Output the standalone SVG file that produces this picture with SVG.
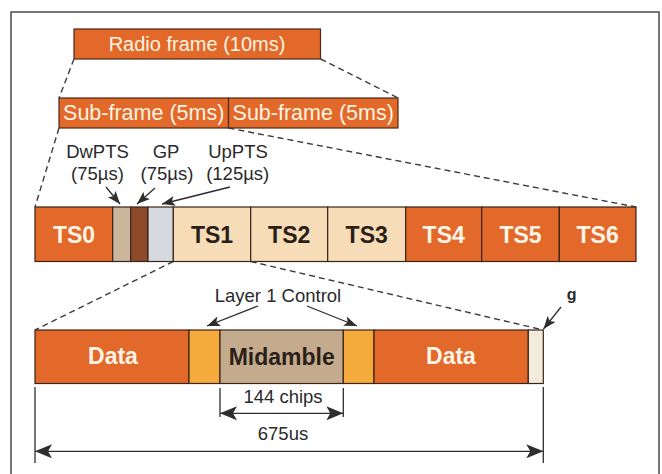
<svg xmlns="http://www.w3.org/2000/svg" width="662" height="474" viewBox="0 0 662 474">
<defs>
<style>
.frame{fill:#E2692A;stroke:#4a2a18;stroke-width:1.2}
.ts-o{fill:#E2692A;stroke:#3a2418;stroke-width:1.2}
.ts-b{fill:#F6DDB8;stroke:#3a2418;stroke-width:1.2}
.dash{fill:none;stroke:#3c3c3c;stroke-width:1.4;stroke-dasharray:6 4}
.arr{fill:none;stroke:#2e2e2e;stroke-width:1.3}
.dim{fill:none;stroke:#2e2e2e;stroke-width:1.3}
.lbl{font-family:"Liberation Sans",Arial,sans-serif;font-size:18.5px;fill:#2a2a2a;text-anchor:middle}
.wt{font-family:"Liberation Sans",Arial,sans-serif;fill:#FFF4E2;text-anchor:middle}
.bold-w{font-family:"Liberation Sans",Arial,sans-serif;font-weight:bold;font-size:23px;fill:#FFF4E6;text-anchor:middle}
.bold-d{font-family:"Liberation Sans",Arial,sans-serif;font-weight:bold;font-size:23px;fill:#2a2018;text-anchor:middle}
</style>
<marker id="ah" markerUnits="userSpaceOnUse" markerWidth="14" markerHeight="12" refX="13" refY="5" orient="auto">
<path d="M0,0 L13,5 L0,10 L3,5 Z" fill="#2e2e2e"/>
</marker>
<marker id="dh" markerUnits="userSpaceOnUse" markerWidth="18" markerHeight="14" refX="17" refY="7" orient="auto-start-reverse">
<path d="M0,0 L17,7 L0,14 L4,7 Z" fill="#2e2e2e"/>
</marker>
</defs>
<rect x="11" y="12" width="648" height="480" fill="#FFFFFF" stroke="#555555" stroke-width="1.6"/>

<g id="radio-frame">
<rect class="frame" x="74" y="29" width="246.5" height="30"/>
<text class="wt" x="197" y="51" font-size="20">Radio frame (10ms)</text>
</g>
<g id="subframe-1">
<rect class="frame" x="59" y="98" width="169.5" height="30"/>
<text class="wt" x="143.7" y="120" font-size="21.5">Sub-frame (5ms)</text>
</g>
<g id="subframe-2">
<rect class="frame" x="228.5" y="98" width="169.5" height="30"/>
<text class="wt" x="313.2" y="120" font-size="21.5">Sub-frame (5ms)</text>
</g>

<g id="label-dwpts"><text class="lbl" x="97.5" y="158">DwPTS</text><text class="lbl" x="97.5" y="180">(75µs)</text></g>
<g id="label-gp"><text class="lbl" x="166" y="158">GP</text><text class="lbl" x="167" y="180">(75µs)</text></g>
<g id="label-uppts"><text class="lbl" x="238" y="158">UpPTS</text><text class="lbl" x="237.7" y="180">(125µs)</text></g>

<g id="ts0"><rect class="ts-o" x="35" y="207" width="77.7" height="54.5"/><text class="bold-w" x="74" y="242.5">TS0</text></g>
<g id="dwpts"><rect x="112.7" y="207" width="18" height="54.5" fill="#CBB59D" stroke="#3a2418" stroke-width="1.2"/></g>
<g id="gp"><rect x="130.7" y="207" width="17.3" height="54.5" fill="#8C4A2A" stroke="#3a2418" stroke-width="1.2"/></g>
<g id="uppts"><rect x="148" y="207" width="25.3" height="54.5" fill="#D6D9DF" stroke="#3a2418" stroke-width="1.2"/></g>
<g id="ts1"><rect class="ts-b" x="173.3" y="207" width="77.4" height="54.5"/><text class="bold-d" x="212" y="242.5">TS1</text></g>
<g id="ts2"><rect class="ts-b" x="250.7" y="207" width="77" height="54.5"/><text class="bold-d" x="289.2" y="242.5">TS2</text></g>
<g id="ts3"><rect class="ts-b" x="327.7" y="207" width="78" height="54.5"/><text class="bold-d" x="366.7" y="242.5">TS3</text></g>
<g id="ts4"><rect class="ts-o" x="405.7" y="207" width="76" height="54.5"/><text class="bold-w" x="443.7" y="242.5">TS4</text></g>
<g id="ts5"><rect class="ts-o" x="481.7" y="207" width="77.6" height="54.5"/><text class="bold-w" x="520.5" y="242.5">TS5</text></g>
<g id="ts6"><rect class="ts-o" x="559.3" y="207" width="76.7" height="54.5"/><text class="bold-w" x="597.6" y="242.5">TS6</text></g>

<g id="label-l1"><text class="lbl" x="278" y="302" font-size="19">Layer 1 Control</text></g>
<g id="label-g"><text x="571.7" y="300" font-family="'Liberation Sans',Arial,sans-serif" font-weight="bold" font-size="16" fill="#2a2a2a" text-anchor="middle">g</text></g>

<g id="data-1"><rect class="ts-o" x="35" y="330" width="154" height="53.5"/><text class="bold-w" x="113" y="364">Data</text></g>
<g id="l1-control-1"><rect x="189" y="330" width="31" height="53.5" fill="#F5AA3C" stroke="#3a2418" stroke-width="1.2"/></g>
<g id="midamble"><rect x="220" y="330" width="123.3" height="53.5" fill="#C4AB8D" stroke="#3a2418" stroke-width="1.2"/><text class="bold-d" x="281.7" y="365" font-size="23.5">Midamble</text></g>
<g id="l1-control-2"><rect x="343.3" y="330" width="30.7" height="53.5" fill="#F5AA3C" stroke="#3a2418" stroke-width="1.2"/></g>
<g id="data-2"><rect class="ts-o" x="374" y="330" width="154.3" height="53.5"/><text class="bold-w" x="451" y="364">Data</text></g>
<g id="guard"><rect x="528.3" y="330" width="15" height="53.5" fill="#F3ECDD" stroke="#3a2418" stroke-width="1.2"/></g>

<g id="label-144"><text class="lbl" x="283" y="403">144 chips</text></g>
<g id="label-675"><text class="lbl" x="283" y="440">675us</text></g>

<g id="connectors">
<line class="dash" x1="74" y1="59" x2="59" y2="98"/>
<line class="dash" x1="320.5" y1="59" x2="398" y2="98"/>
<line class="dash" x1="59" y1="128" x2="35" y2="207"/>
<line class="dash" x1="228.5" y1="128" x2="636" y2="207"/>
<line class="dash" x1="173.3" y1="261.5" x2="35" y2="330"/>
<line class="dash" x1="250.7" y1="261.5" x2="543.3" y2="330"/>
<line class="arr" x1="106" y1="187" x2="120" y2="204" marker-end="url(#ah)"/>
<line class="arr" x1="155" y1="188" x2="137" y2="204" marker-end="url(#ah)"/>
<line class="arr" x1="230" y1="187" x2="162" y2="204" marker-end="url(#ah)"/>
<line class="arr" x1="258" y1="306" x2="207" y2="326" marker-end="url(#ah)"/>
<line class="arr" x1="307" y1="306" x2="357" y2="326" marker-end="url(#ah)"/>
<line class="arr" x1="561" y1="307" x2="543.5" y2="329" marker-end="url(#ah)"/>
<line class="dim" x1="220" y1="388" x2="220" y2="417"/>
<line class="dim" x1="343.3" y1="388" x2="343.3" y2="417"/>
<line class="dim" x1="220" y1="413.3" x2="343.3" y2="413.3" marker-start="url(#dh)" marker-end="url(#dh)"/>
<line class="dim" x1="35" y1="387" x2="35" y2="463"/>
<line class="dim" x1="543.3" y1="387" x2="543.3" y2="463"/>
<line class="dim" x1="35" y1="451.3" x2="543.3" y2="451.3" marker-start="url(#dh)" marker-end="url(#dh)"/>
</g>
</svg>
